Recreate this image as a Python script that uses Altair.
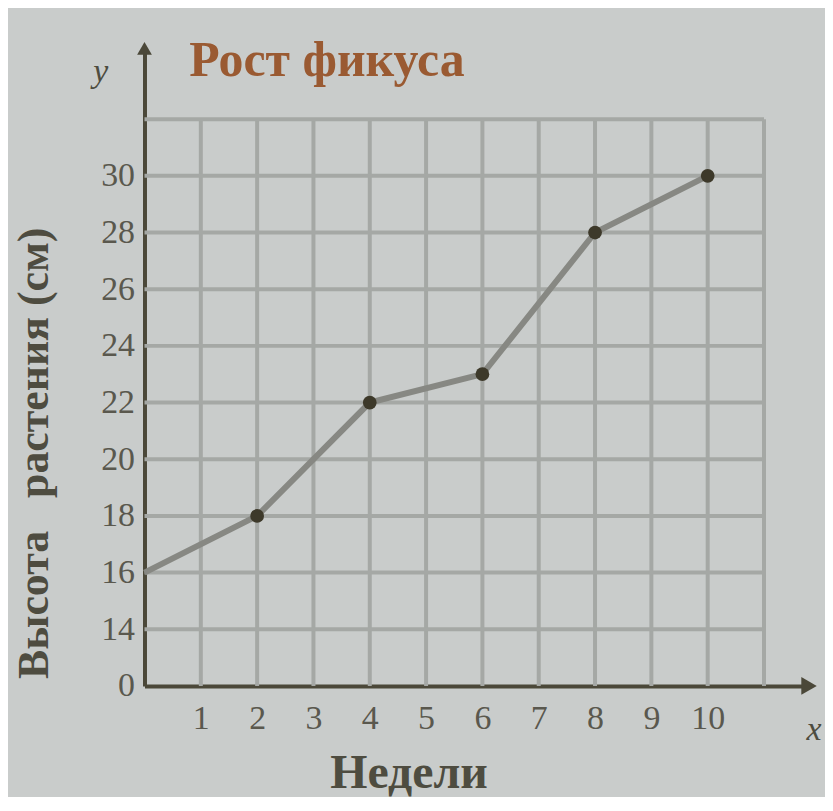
import altair as alt
import pandas as pd

# ---- data ----
weeks = [0, 2, 4, 6, 8, 10]
height_cm = [16, 18, 22, 23, 28, 30]
marked_weeks = [2, 4, 6, 8, 10]
marked_heights = [18, 22, 23, 28, 30]

x_tick_values = [1, 2, 3, 4, 5, 6, 7, 8, 9, 10]
y_tick_values = [12, 14, 16, 18, 20, 22, 24, 26, 28, 30]   # 12 is shown as "0" (broken axis)
grid_x_values = [1, 2, 3, 4, 5, 6, 7, 8, 9, 10, 11]
grid_y_values = [14, 16, 18, 20, 22, 24, 26, 28, 30, 32]

title_text = "Рост фикуса"
x_title = "Недели"
y_title = "Высота\u00a0\u00a0\u00a0растения (см)"

# ---- geometry ----
X_MIN, X_MAX = 0, 11.8
Y_MIN, Y_MAX = 12, 34.5
GRID_X_MAX, GRID_Y_MAX = 11, 32

BG = "#c9cccb"
GRID = "#a5a8a5"
AXIS = "#4b4839"
TEXT = "#4e4c40"
LABEL = "#5a584e"
LINE = "#878883"
DOT = "#3d392a"
TITLE_COL = "#9a5a32"
SERIF = "Liberation Serif"

xs = alt.Scale(domain=[X_MIN, X_MAX], nice=False, zero=False)
ys = alt.Scale(domain=[Y_MIN, Y_MAX], nice=False, zero=False)

x_axis = alt.Axis(
    values=x_tick_values, title=x_title, grid=False, ticks=False,
    domainColor=AXIS, domainWidth=4, labelFont=SERIF, labelFontSize=34,
    labelColor=LABEL, labelPadding=16, labelOverlap=False, labelFlush=False,
    titleFont=SERIF, titleFontSize=48, titleFontWeight="bold", titleColor=TEXT,
    titleX=265, titleY=88, titleAlign="center", titleBaseline="middle",
)
y_axis = alt.Axis(
    values=y_tick_values, labelExpr="datum.value == 12 ? '0' : datum.value",
    title=y_title, grid=False, ticks=False,
    domainColor=AXIS, domainWidth=4, labelFont=SERIF, labelFontSize=34,
    labelColor=LABEL, labelPadding=10, labelOverlap=False, labelFlush=False,
    titleFont=SERIF, titleFontSize=44, titleFontWeight="bold", titleColor=TEXT,
    titleAngle=270, titleX=-110, titleY=406, titleAlign="center", titleBaseline="middle",
)


def X(field):
    return alt.X(field, scale=xs, axis=x_axis)


def Y(field):
    return alt.Y(field, scale=ys, axis=y_axis)


vgrid_df = pd.DataFrame({"x": grid_x_values, "y0": Y_MIN, "y1": GRID_Y_MAX})
hgrid_df = pd.DataFrame({"y": grid_y_values, "x0": X_MIN, "x1": GRID_X_MAX})
line_df = pd.DataFrame({"x": weeks, "y": height_cm})
dot_df = pd.DataFrame({"x": marked_weeks, "y": marked_heights})

vgrid = alt.Chart(vgrid_df).mark_rule(color=GRID, strokeWidth=4).encode(
    x=X("x:Q"), y=Y("y0:Q"), y2="y1:Q",
)
hgrid = alt.Chart(hgrid_df).mark_rule(color=GRID, strokeWidth=4).encode(
    y=Y("y:Q"), x=X("x0:Q"), x2="x1:Q",
)
line = alt.Chart(line_df).mark_line(color=LINE, strokeWidth=6).encode(
    x=X("x:Q"), y=Y("y:Q"),
)
dots = alt.Chart(dot_df).mark_circle(color=DOT, size=190, opacity=1).encode(
    x=X("x:Q"), y=Y("y:Q"),
)

arrow_x = alt.Chart(pd.DataFrame({"x": [X_MAX], "y": [Y_MIN]})).mark_point(
    shape="triangle-right", filled=True, color=AXIS, size=320, opacity=1
).encode(x=X("x:Q"), y=Y("y:Q"))
arrow_y = alt.Chart(pd.DataFrame({"x": [X_MIN], "y": [Y_MAX]})).mark_point(
    shape="triangle-up", filled=True, color=AXIS, size=220, opacity=1
).encode(x=X("x:Q"), y=Y("y:Q"))

x_letter = alt.Chart(pd.DataFrame({"x": [X_MAX], "y": [Y_MIN], "t": ["x"]})).mark_text(
    font=SERIF, fontSize=34, fontStyle="italic", color=TEXT, dx=5, dy=44
).encode(x=X("x:Q"), y=Y("y:Q"), text="t:N")
y_letter = alt.Chart(pd.DataFrame({"x": [X_MIN], "y": [Y_MAX], "t": ["y"]})).mark_text(
    font=SERIF, fontSize=34, fontStyle="italic", color=TEXT, dx=-44, dy=24
).encode(x=X("x:Q"), y=Y("y:Q"), text="t:N")

chart = alt.layer(vgrid, hgrid, line, dots, arrow_x, arrow_y, x_letter, y_letter).properties(
    width=667,
    height=640,
    autosize=alt.AutoSizeParams(type="none"),
    padding={"left": 137, "top": 39, "right": 16, "bottom": 110},
    background=BG,
    title=alt.TitleParams(
        title_text, anchor="start", frame="group", dx=45, dy=48,
        font=SERIF, fontSize=50, fontWeight="bold", color=TITLE_COL,
    ),
).configure_view(stroke=None)

chart.save("out.html", embed_options={"renderer": "svg", "actions": False})
